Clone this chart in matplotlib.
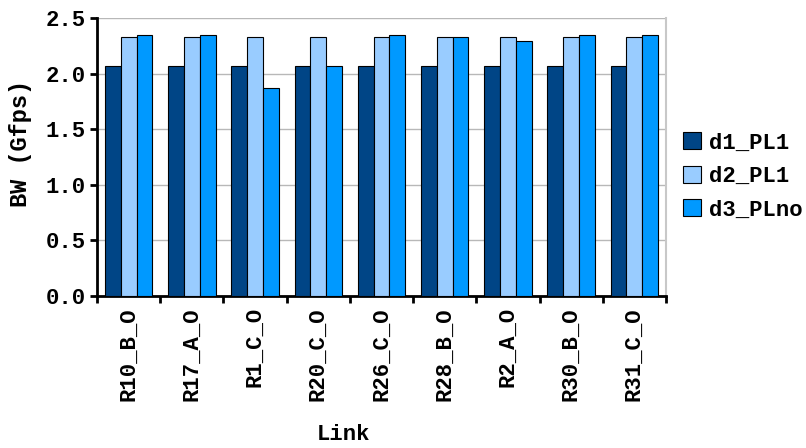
import matplotlib
matplotlib.use("Agg")
import matplotlib.pyplot as plt
import numpy as np

links = ["R10_B_O", "R17_A_O", "R1_C_O", "R20_C_O", "R26_C_O",
         "R28_B_O", "R2_A_O", "R30_B_O", "R31_C_O"]
series_names = ["d1_PL1", "d2_PL1", "d3_PLno"]
d1_PL1 = [2.07, 2.07, 2.07, 2.07, 2.07, 2.07, 2.07, 2.07, 2.07]
d2_PL1 = [2.33, 2.33, 2.33, 2.33, 2.33, 2.33, 2.33, 2.33, 2.33]
d3_PLno = [2.35, 2.35, 1.87, 2.07, 2.35, 2.33, 2.29, 2.35, 2.35]
colors = ["#004586", "#99ccff", "#0099ff"]

plt.rcParams['font.family'] = ['Liberation Mono', 'DejaVu Sans Mono']
plt.rcParams['font.weight'] = 'bold'

fig = plt.figure(figsize=(8.06, 4.48), dpi=100)
ax = fig.add_axes([97/806, 1-296/448, (666-97)/806, (296-18)/448])

x = np.arange(len(links))
w = 0.25
for i, (vals, name) in enumerate(zip([d1_PL1, d2_PL1, d3_PLno], series_names)):
    ax.bar(x + (i-1)*w, vals, width=w, color=colors[i], edgecolor='black',
           linewidth=0.8, label=name, zorder=3)

ax.set_xlim(-0.5, len(links)-0.5)
ax.set_ylim(0, 2.5)
ax.set_yticks(np.arange(0, 2.51, 0.5))
ax.set_yticklabels([f"{v:.1f}" for v in np.arange(0, 2.51, 0.5)], fontsize=16, fontweight='bold')
ax.yaxis.grid(True, color='#b8b8b8', linewidth=1, zorder=0)
ax.set_axisbelow(True)

ax.set_xticks(x)
ax.set_xticklabels(links, rotation=90, fontsize=16, fontweight='bold')
ax.tick_params(axis='x', which='major', length=0, pad=8)
ax.set_xticks(np.arange(-0.5, len(links)), minor=True)
ax.tick_params(axis='x', which='minor', length=5, width=2, direction='out')
ax.tick_params(axis='y', length=5, width=2, direction='out', pad=3)

for s in ['left', 'bottom']:
    ax.spines[s].set_linewidth(2)
    ax.spines[s].set_color('black')
ax.spines['top'].set_visible(False)
ax.spines['right'].set_color('#c8c8c8')
ax.spines['right'].set_linewidth(1.5)

ax.set_ylabel("BW (Gfps)", fontsize=17, fontweight='bold')
ax.yaxis.set_label_coords(-0.114, 0.55)
ax.set_xlabel("Link", fontsize=16, fontweight='bold')
ax.xaxis.set_label_coords(0.434, -0.462)

ax.legend(loc='center left', bbox_to_anchor=(1.01, 0.43), frameon=False,
          handlelength=0.8, handleheight=0.8, handletextpad=0.4,
          labelspacing=0.55, borderpad=0, prop={'weight': 'bold', 'size': 16})

fig.savefig("out.png", dpi=100)
